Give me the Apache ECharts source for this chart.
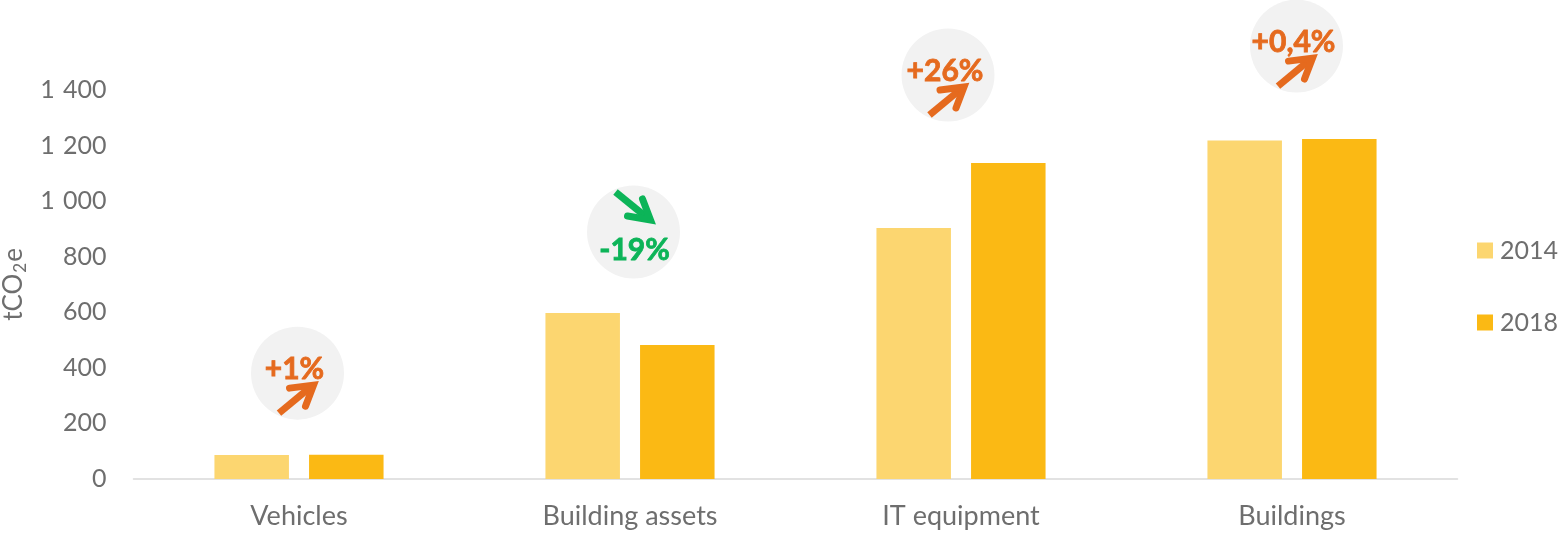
<!DOCTYPE html>
<html><head><meta charset="utf-8">
<style>html,body{margin:0;padding:0;background:#fff}#c{width:1568px;height:534px}</style>
<script src="https://cdn.jsdelivr.net/npm/echarts@6/dist/echarts.min.js"></script>
</head><body><div id="c"></div>
<script>
const categories = ['Vehicles','Building assets','IT equipment','Buildings'];
const values2014 = [86,597,903,1218];
const values2018 = [87,482,1137,1224];
const badgeLabels = ['+1%','-19%','+26%','+0,4%'];
const badgeValues = [381,889,1454,1558];
const badgeDx = [-1.5,3.5,-13,4.5];
const badgeTrend = ['up','down','up','up'];
const ORANGE='#e56a1e', GREEN='#0cb458', GREY='#6e6e6e', BADGE='#f2f2f2';
const chart = echarts.init(document.getElementById('c'),null,{renderer:'canvas'});
const FONT='Lato';
chart.setOption({
  animation:false,
  grid:{left:133.5,right:110.5,top:90,bottom:55,containLabel:false,outerBoundsMode:'none'},
  legend:{orient:'vertical',left:1472,top:233,itemWidth:16,itemHeight:16,itemGap:47,
    icon:'rect',data:['2014','2018'],selectedMode:false,
    textStyle:{fontFamily:FONT,fontSize:25,color:GREY,padding:[0,0,0,2]}},
  xAxis:{type:'category',data:categories,
    axisLine:{lineStyle:{color:'#d9d9d9',width:1.5}},axisTick:{show:false},
    axisLabel:{fontFamily:FONT,fontSize:27,color:GREY,margin:24}},
  yAxis:{type:'value',min:0,max:1400,interval:200,
    name:'{a|tCO}{b|2}{a|e}',nameLocation:'middle',nameGap:103,nameRotate:90,
    nameTextStyle:{rich:{a:{fontFamily:FONT,fontSize:26,color:GREY},b:{fontFamily:FONT,fontSize:17,color:GREY,verticalAlign:'bottom',padding:[14,1,0,1]}}},
    axisLine:{show:false},axisTick:{show:false},splitLine:{show:false},
    axisLabel:{fontFamily:FONT,fontSize:25,color:GREY,margin:27,
      formatter:v=>String(v).replace(/\B(?=(\d{3})+$)/g,'\u2004')}},
  series:[
    {name:'2014',type:'bar',data:values2014,barWidth:74.5,barGap:'27%',itemStyle:{color:'#fcd670'}},
    {name:'2018',type:'bar',data:values2018,barWidth:74.5,itemStyle:{color:'#fbb914'}},
    {type:'custom',silent:true,clip:false,z:5,
      data:categories.map((c,i)=>[i,badgeValues[i]]),
      encode:{x:0,y:1},
      renderItem(params,api){
        const i=params.dataIndex, p=api.coord([api.value(0),api.value(1)]);
        const cx=p[0]+badgeDx[i], cy=p[1], up=badgeTrend[i]==='up', col=up?ORANGE:GREEN;
        const tail=up?[-18.5,40]:[-18,-40], tip=up?[19,9]:[20,-9];
        const barbs=up?[[-8,15],[8,33]]:[[9,-33],[-6,-16]];
        const txt=up?[-3,-4]:[1,18];
        const rel=q=>[cx+q[0],cy+q[1]];
        const shaft=[tail[0]+(tip[0]-tail[0])*0.85,tail[1]+(tip[1]-tail[1])*0.85];
        return {type:'group',children:[
          {type:'circle',shape:{cx,cy,r:46.5},style:{fill:BADGE}},
          {type:'polyline',shape:{points:[rel(tail),rel(shaft)]},style:{stroke:col,lineWidth:7,fill:null}},
          {type:'polyline',shape:{points:[rel(barbs[0]),rel([tip[0]-3,tip[1]+(up?3:-3)]),rel(barbs[1])]},
            style:{stroke:col,lineWidth:7,fill:null,lineCap:'round',lineJoin:'miter',miterLimit:6}},
          {type:'text',style:{x:cx+txt[0],y:cy+txt[1],text:badgeLabels[i],fill:col,stroke:col,lineWidth:0.8,
            font:'bold 30px "Lato"',align:'center',verticalAlign:'middle'}}
        ]};
      }}
  ]
});
</script></body></html>
